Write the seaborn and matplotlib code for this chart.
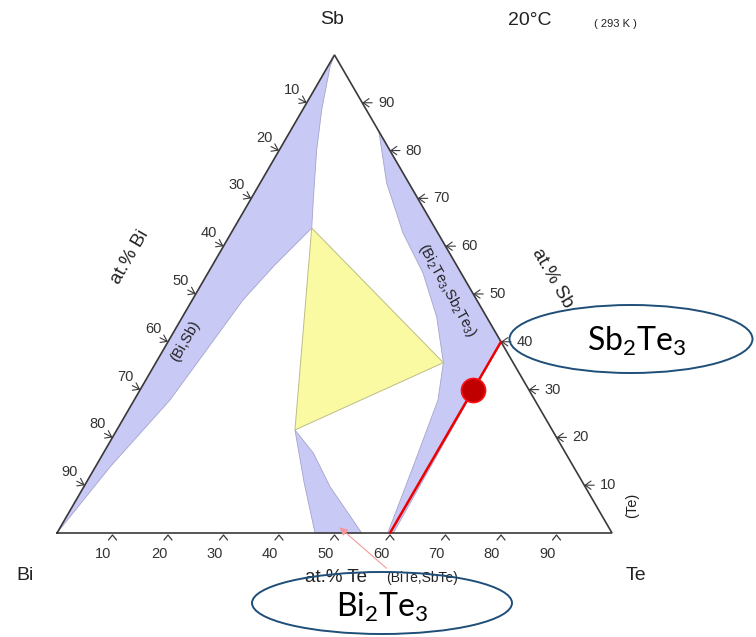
import numpy as np
import pandas as pd
import matplotlib
matplotlib.use("Agg")
import matplotlib.pyplot as plt
import seaborn as sns
from matplotlib.patches import Polygon, Ellipse

# ---------------- data (compositions in at.%: Te, Sb; Bi = remainder) ----------------
tick_values = [10, 20, 30, 40, 50, 60, 70, 80, 90]

# (Bi,Sb) solid-solution band along the Bi-Sb edge
bisb_te = [0.0, 0.44, 3.44, 6.74, 11.33, 14.0, 11.2, 9.14, 6.45, 2.65, 0.0]
bisb_sb = [100.0, 97.5, 88.5, 80.1, 69.7, 63.8, 56.0, 48.74, 27.82, 13.81, 0.0]

# (Bi2Te3,Sb2Te3) band
bt_te = [16.0, 22.8, 30.96, 38.75, 45.82, 51.8, 54.74, 57.24, 59.6, 60.6, 60.0, 16.0]
bt_sb = [84.0, 73.2, 62.76, 54.39, 45.19, 35.63, 27.82, 13.8, 0.0, 0.0, 40.0, 84.0]

# (BiTe,SbTe) band
bite_te = [32.1, 39.17, 46.49, 54.9, 44.35, 37.81]
bite_sb = [21.55, 10.67, 0.0, 0.0, 9.69, 16.74]

# three-phase triangle
tri_te = [14.0, 51.8, 32.1]
tri_sb = [63.8, 35.63, 21.55]

# Bi2Te3 - Sb2Te3 section and the marked composition
sec_te = [60.0, 60.0]
sec_sb = [0.0, 40.0]
dot_te = [60.0]
dot_sb = [30.0]

# arrow tip pointing at (BiTe,SbTe) band
arrow_te, arrow_sb = 50.3, 1.2


def tern(te, sb):
    te = np.asarray(te, float) / 100.0
    sb = np.asarray(sb, float) / 100.0
    return te + sb / 2.0, sb * np.sqrt(3) / 2.0


# pixel -> data helper (layout only)
def px(x, y):
    return (x - 57) / 555.0, (533 - y) / 552.0


PT = 0.72  # points per pixel at dpi 100
PXX = 1 / 555.0
PXY = 1 / 552.0

sns.set_theme(style="white")
plt.rcParams['font.family'] = ['Liberation Sans', 'DejaVu Sans']

fig = plt.figure(figsize=(7.56, 6.37), dpi=100)
ax = fig.add_axes([0, 0, 1, 1])
ax.set_xlim((0 - 57) / 555.0, (756 - 57) / 555.0)
ax.set_ylim((533 - 637) / 552.0, 533 / 552.0)
ax.axis('off')

band_fc = '#c9c9f6'
band_ec = '#a4a4cc'
for te, sb in [(bisb_te, bisb_sb), (bt_te, bt_sb), (bite_te, bite_sb)]:
    x, y = tern(te, sb)
    ax.add_patch(Polygon(np.column_stack([x, y]), closed=True, fc=band_fc, ec=band_ec, lw=0.6, zorder=1))

x, y = tern(tri_te, tri_sb)
ax.add_patch(Polygon(np.column_stack([x, y]), closed=True, fc='#fafaa2', ec='#bdbd86', lw=0.7, zorder=1))

# triangle frame
frame = pd.DataFrame({'te': [0, 100, 0, 0], 'sb': [0, 0, 100, 0]})
fx, fy = tern(frame['te'], frame['sb'])
ax.plot(fx, fy, color='#3a3a3a', lw=1.2, zorder=3, solid_joinstyle='miter')

# ticks
arrow_kw = dict(arrowstyle='->,head_length=0.35,head_width=0.25', color='#3a3a3a', lw=0.8,
                shrinkA=0, shrinkB=0)
lab = dict(ha='center', va='center', fontsize=10.5, color='#333333')
for v in tick_values:
    # bottom (Te): caret chevrons
    bx, by = tern(v, 0)
    ax.plot([bx - 4 * PXX, bx, bx + 4 * PXX], [by - 7 * PXY, by - 2 * PXY, by - 7 * PXY],
            color='#3a3a3a', lw=0.9, zorder=4)
    ax.annotate(str(v), xy=(bx, by), xytext=(-9 * PT, -21 * PT), textcoords='offset points', **lab)
    # left (Bi)
    lx, ly = tern(0, 100 - v)
    ax.annotate('', xy=(lx, ly), xytext=(-8 * PT, 4 * PT), textcoords='offset points',
                arrowprops=arrow_kw, zorder=4)
    ax.annotate(str(v), xy=(lx, ly), xytext=(-15 * PT, 13 * PT), textcoords='offset points', **lab)
    # right (Sb)
    rx, ry = tern(100 - v, v)
    ax.annotate('', xy=(rx, ry), xytext=(10 * PT, 0), textcoords='offset points',
                arrowprops=arrow_kw, zorder=4)
    ax.annotate(str(v), xy=(rx, ry), xytext=(24 * PT, 0), textcoords='offset points', **lab)

# red section line and dot
sx, sy = tern(sec_te, sec_sb)
sns.lineplot(x=sx, y=sy, ax=ax, color='#ee0000', lw=1.8, sort=False, zorder=5)
dx, dy = tern(dot_te, dot_sb)
sns.scatterplot(x=dx, y=dy, ax=ax, s=300, color='#c00000', edgecolor='#ff1010', linewidth=1.2, zorder=6)

# pink arrow to (BiTe,SbTe)
ax_, ay_ = tern(arrow_te, arrow_sb)
ax.annotate('', xy=(ax_, ay_), xytext=(47 * PT, -41 * PT), textcoords='offset points',
            arrowprops=dict(arrowstyle='-|>,head_length=0.4,head_width=0.2', color='#f29a9a', lw=0.8,
                            shrinkA=0, shrinkB=0), zorder=4)

# labels
txt = dict(color='#222222', ha='center', va='center')
ax.text(*px(332, 20), 'Sb', fontsize=14, **txt)
ax.text(*px(530, 21), '20°C', fontsize=14, **txt)
ax.text(*px(615, 24), '( 293 K )', fontsize=8, **txt)
ax.text(*px(25, 576), 'Bi', fontsize=14, **txt)
ax.text(*px(636, 576), 'Te', fontsize=14, **txt)
ax.text(*px(336, 577), 'at.% Te', fontsize=13.5, **txt)
ax.text(*px(422, 578), '(BiTe,SbTe)', fontsize=10, **txt)
ax.text(*px(130, 257), 'at.% Bi', fontsize=13.5, rotation=60, **txt)
ax.text(*px(552, 278), 'at.% Sb', fontsize=13.5, rotation=-60, **txt)
ax.text(*px(185, 341), '(Bi,Sb)', fontsize=10.5, rotation=60, **txt)
ax.text(*px(447, 290), '(Bi$\\mathregular{_2}$Te$\\mathregular{_3}$,Sb$\\mathregular{_2}$Te$\\mathregular{_3}$)',
        fontsize=10.5, rotation=-61, **txt)
ax.text(*px(632, 505), '(Te)', fontsize=10.5, rotation=90, **txt)

# highlight ellipses
ec = '#1f4e79'
ax.add_patch(Ellipse(px(631, 339), 243 / 555, 68 / 552, fc='none', ec=ec, lw=1.4, zorder=7))
ax.add_patch(Ellipse(px(382, 603), 260 / 555, 62 / 552, fc='none', ec=ec, lw=1.4, zorder=7))
ax.text(*px(637, 341), 'Sb$\\mathregular{_2}$Te$\\mathregular{_3}$', fontsize=23, family=['Lato', 'DejaVu Sans'],
        color='black', ha='center', va='center', zorder=8)
ax.text(*px(382, 607), 'Bi$\\mathregular{_2}$Te$\\mathregular{_3}$', fontsize=23, family=['Lato', 'DejaVu Sans'],
        color='black', ha='center', va='center', zorder=8)

fig.savefig('out.png', dpi=100)
